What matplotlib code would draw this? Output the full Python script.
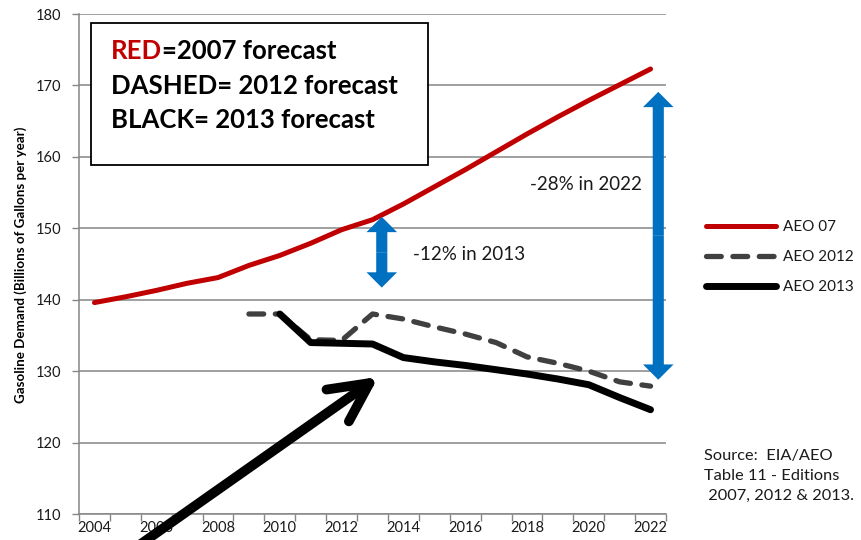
import matplotlib
matplotlib.use('Agg')
import matplotlib.pyplot as plt
from matplotlib.patches import Rectangle
from matplotlib.ticker import MultipleLocator, FixedLocator

plt.rcParams['font.family'] = ['Lato', 'DejaVu Sans']

# Gasoline demand forecasts (billions of gallons per year), EIA AEO Table 11
years_07 = list(range(2004, 2023))
aeo_07 = [139.6, 140.4, 141.3, 142.3, 143.1, 144.8, 146.2, 147.9, 149.8, 151.2,
          153.4, 155.8, 158.2, 160.7, 163.2, 165.6, 167.9, 170.1, 172.3]

years_12 = list(range(2009, 2023))
aeo_12 = [138.0, 138.0, 134.4, 134.3, 138.0, 137.3, 136.2, 135.2, 134.0, 132.0,
          131.1, 130.0, 128.5, 127.9]

years_13 = list(range(2010, 2023))
aeo_13 = [138.0, 134.0, 133.9, 133.8, 131.9, 131.3, 130.8, 130.2, 129.6, 128.9,
          128.1, 126.3, 124.6]

xtick_years = list(range(2004, 2023, 2))

RED = '#C00000'
DASH = '#404040'
BLUE = '#0070C0'
GRID = '#868686'
INK = '#1a1a1a'

fig = plt.figure(figsize=(8.62, 5.40), dpi=100)
ax = fig.add_axes([79/862, 1 - 514/540, 587/862, 500/540])

ax.plot(years_07, aeo_07, color=RED, lw=3.6, solid_capstyle='round', label='AEO 07', zorder=4)
ax.plot(years_12, aeo_12, color=DASH, lw=3.8, linestyle=(0, (2.8, 2.2)),
        dash_capstyle='round', label='AEO 2012', zorder=4)
ax.plot(years_13, aeo_13, color='black', lw=5, solid_capstyle='round',
        solid_joinstyle='round', label='AEO 2013', zorder=5)

# axes: category-style x axis, ticks between years
ax.set_xlim(2003.5, 2022.5)
ax.set_ylim(110, 180)
ax.xaxis.set_major_locator(FixedLocator(xtick_years))
ax.xaxis.set_minor_locator(MultipleLocator(1, offset=0.5))
ax.yaxis.set_major_locator(MultipleLocator(10))
ax.tick_params(axis='x', which='major', length=0, labelsize=10.5, pad=5, labelcolor=INK)
ax.tick_params(axis='x', which='minor', length=5, width=1, color=GRID)
ax.tick_params(axis='y', which='major', length=5, width=1, color=GRID, labelsize=10.5,
               pad=8, labelcolor=INK)
ax.grid(axis='y', color=GRID, lw=1.1, zorder=0)
ax.set_axisbelow(True)
for s in ['top', 'right']:
    ax.spines[s].set_visible(False)
for s in ['left', 'bottom']:
    ax.spines[s].set_color(GRID)
    ax.spines[s].set_linewidth(1.1)

ax.set_ylabel('Gasoline Demand (Billions of Gallons per year)', fontsize=9.6, fontweight='bold')
ax.yaxis.set_label_coords(-0.0886, 0.498)

# key box in the upper left
ax.add_patch(Rectangle((0.02, 0.698), 0.574, 0.285, transform=ax.transAxes,
                       facecolor='white', edgecolor='black', lw=1.3, zorder=6))
key_size = 18.5
t_red = ax.text(0.0545, 0.902, 'RED', transform=ax.transAxes, color=RED,
                fontsize=key_size, fontweight='bold', va='bottom', zorder=7)
ax.annotate('=2007 forecast', xy=(1, 0), xycoords=t_red, va='bottom',
            fontsize=key_size, fontweight='bold', zorder=7)
ax.text(0.0545, 0.832, 'DASHED= 2012 forecast', transform=ax.transAxes,
        fontsize=key_size, fontweight='bold', va='bottom', zorder=7)
ax.text(0.0545, 0.763, 'BLACK= 2013 forecast', transform=ax.transAxes,
        fontsize=key_size, fontweight='bold', va='bottom', zorder=7)

# blue gap arrows, drawn as two half arrows from the middle
blue_style = 'simple,head_length=0.55,head_width=1.1,tail_width=0.4'
for x, top, bottom in [(2013.3, 151.6, 141.7), (2022.25, 169.1, 128.8)]:
    mid = (top + bottom) / 2
    for end in (top, bottom):
        ax.annotate('', xy=(x, end), xytext=(x, mid),
                    arrowprops=dict(arrowstyle=blue_style, mutation_scale=20,
                                    color=BLUE, lw=0, shrinkA=0, shrinkB=0),
                    zorder=6)

ax.text(2014.3, 145.5, '-12% in 2013', fontsize=13.5, va='baseline', color=INK)
ax.text(2018.1, 155.4, '-28% in 2022', fontsize=13.5, va='baseline', color=INK)

# big black pointer from below the axis
ax.annotate('', xy=(2013.19, 129.2), xytext=(2005.4, 105.5),
            arrowprops=dict(arrowstyle='->,head_length=28,head_width=14',
                            mutation_scale=1, color='black', lw=7,
                            shrinkA=0, shrinkB=0, capstyle='round', joinstyle='round'),
            annotation_clip=False, zorder=8)

leg = ax.legend(loc='upper left', bbox_to_anchor=(706/862, 1 - 220/540),
                bbox_transform=fig.transFigure, frameon=False, fontsize=11,
                handlelength=4.6, handletextpad=0.45, labelspacing=1.05,
                borderpad=0, borderaxespad=0)
for t in leg.get_texts():
    t.set_color(INK)

fig.text(704/862, 1 - 449/540, 'Source:  EIA/AEO\nTable 11 - Editions\n 2007, 2012 & 2013.',
         fontsize=11.8, va='top', ha='left', linespacing=1.55, color=INK)

fig.savefig('out.png', dpi=100)
